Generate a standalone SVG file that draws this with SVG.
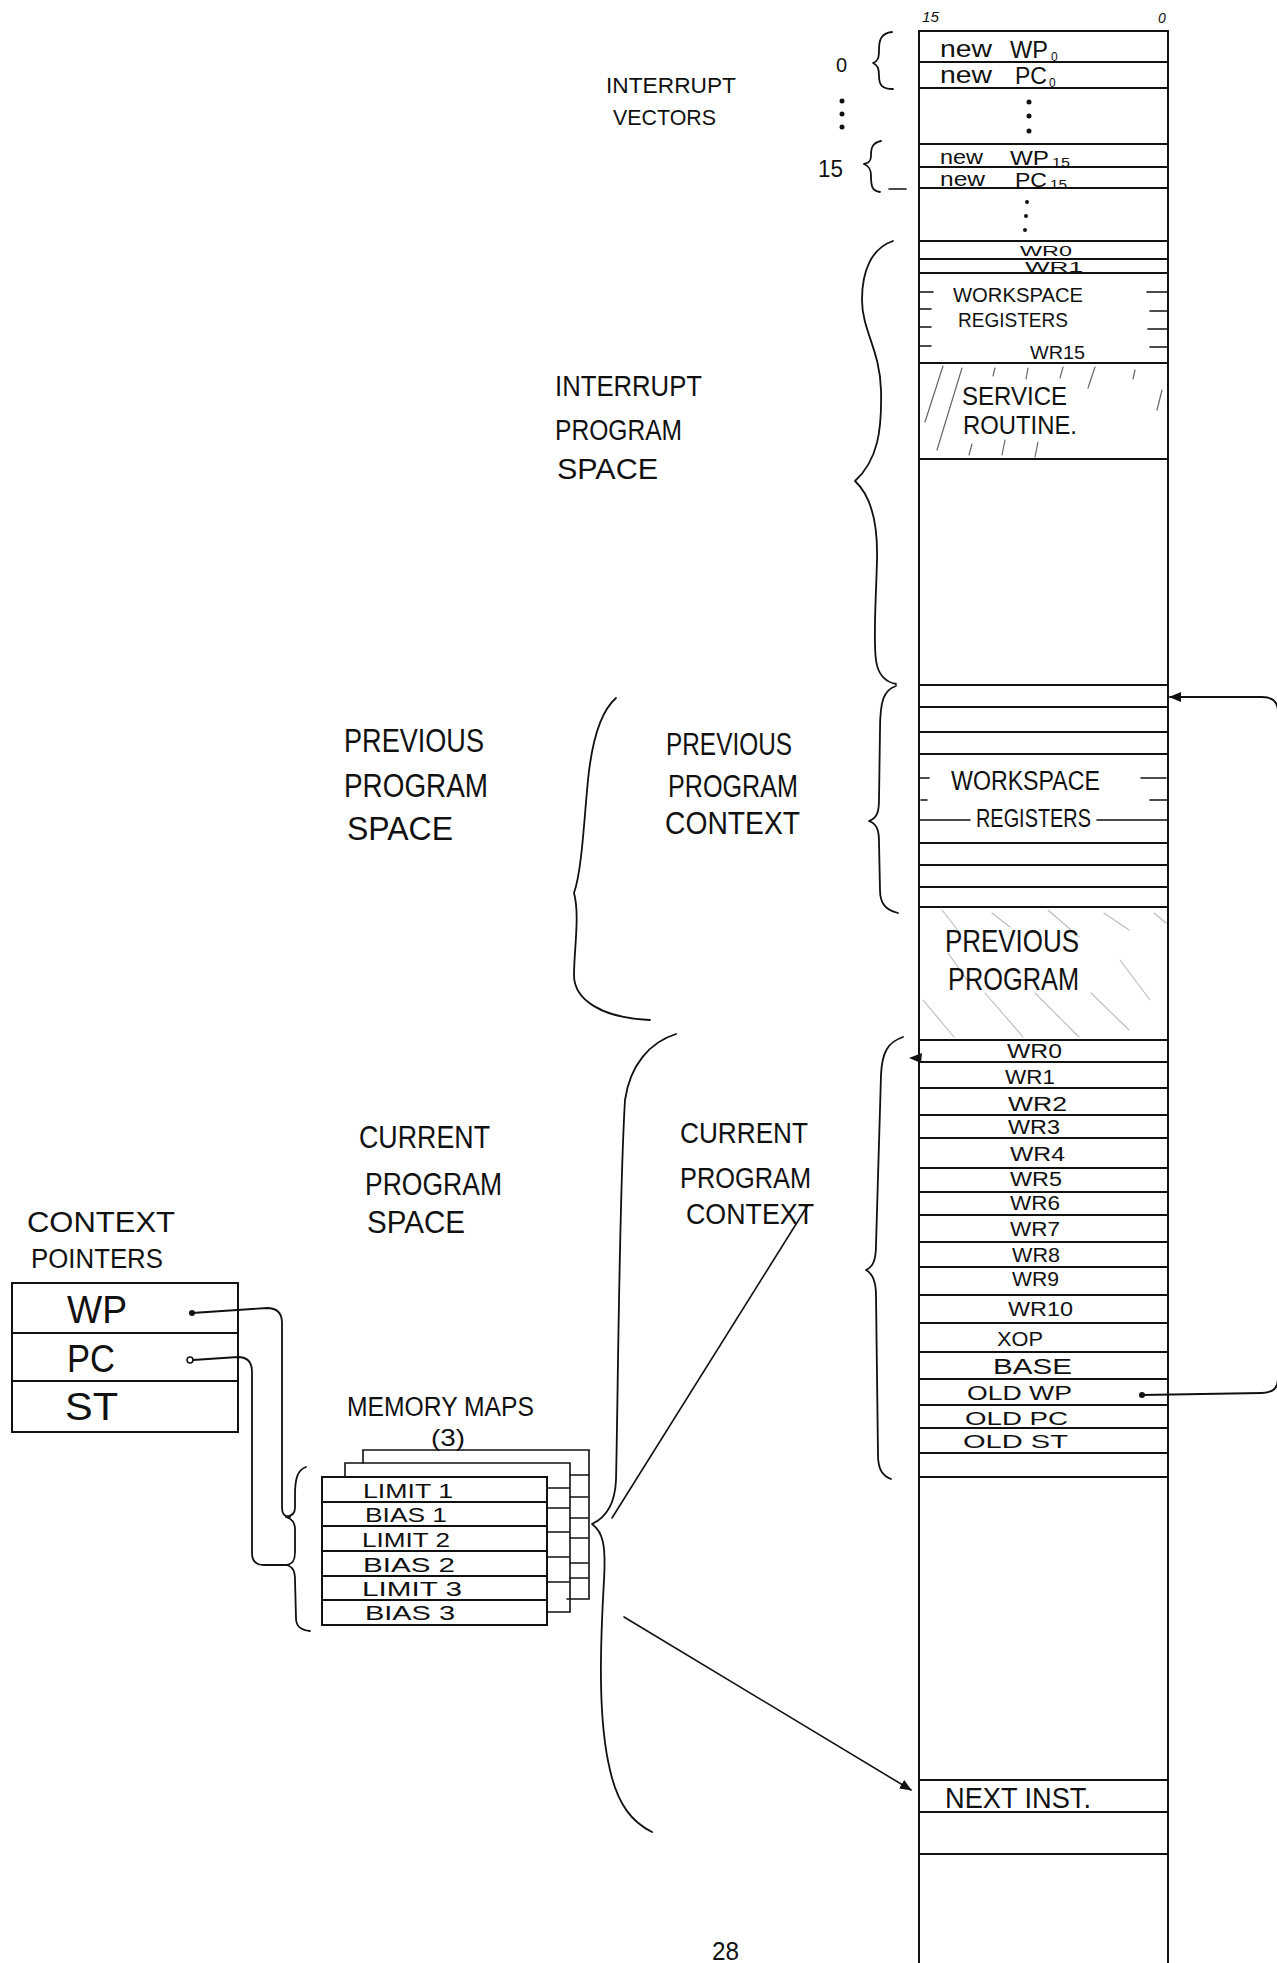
<svg xmlns="http://www.w3.org/2000/svg" width="1277" height="1963" viewBox="0 0 1277 1963">
<style>
.ln{stroke:#111;stroke-width:2;fill:none;stroke-linecap:round}
.th{stroke:#111;stroke-width:1.6;fill:none;stroke-linecap:round}
.hb{stroke:#111;stroke-width:1.8;fill:none;stroke-linecap:round;stroke-linejoin:round}
.ha{stroke:#666;stroke-width:1.2;fill:none;stroke-linecap:round}
.hl{stroke:#bbb;stroke-width:1.1;fill:none;stroke-linecap:round}
.dot{fill:#111}
text{font-family:"Liberation Sans",Arial,sans-serif;fill:#111}
.s14{font-size:14px;font-style:italic}
.s22{font-size:22px}
.s24{font-size:24px}
.s27{font-size:27px}
.s30{font-size:30px}
.s32{font-size:32px}
.s38{font-size:38px}
</style>
<defs>
<marker id="ah" viewBox="0 0 12 10" refX="11" refY="5" markerWidth="12" markerHeight="10" markerUnits="userSpaceOnUse" orient="auto">
<path d="M0,0 L12,5 L0,10 Z" fill="#111"/>
</marker>
</defs>
<rect width="1277" height="1963" fill="#fff"/>

<g id="memory-column">
<path class="ln" d="M919,31 V1963 M1168,31 V1963"/>
<path class="ln" d="M919,31 H1168 M919,62 H1168 M919,88 H1168 M919,144 H1168 M919,167 H1168 M919,188 H1168 M919,241 H1168 M919,259 H1168 M919,273 H1168 M919,363 H1168 M919,459 H1168"/>
<path class="th" d="M920,292 H933 M920,309 H931 M920,327 H931 M920,346 H931 M1147,292 H1168 M1150,311 H1168 M1148,329 H1168 M1150,347 H1168"/>
<path class="ln" d="M919,685 H1168 M919,707 H1168 M919,732 H1168 M919,754 H1168 M919,843 H1168 M919,865 H1168 M919,887 H1168 M919,907 H1168"/>
<path class="th" d="M920,778 H929 M921,800 H927 M1141,778 H1166 M1150,800 H1168 M920,820 H970 M1097,820 H1168"/>
<path class="ln" d="M919,1040 H1168 M919,1062 H1168 M919,1088 H1168 M919,1115 H1168 M919,1138 H1168 M919,1168 H1168 M919,1192 H1168 M919,1215 H1168 M919,1242 H1168 M919,1267 H1168 M919,1295 H1168 M919,1323 H1168 M919,1352 H1168 M919,1379 H1168 M919,1405 H1168 M919,1428 H1168 M919,1453 H1168 M919,1477 H1168"/>
<path class="ln" d="M919,1780 H1168 M919,1812 H1168 M919,1854 H1168"/>
<path class="ha" d="M943,366 L925,422 M962,368 L937,450 M995,368 L993,376 M1028,368 L1026,379 M1063,367 L1060,378 M1095,367 L1088,388 M1135,370 L1133,379 M1162,390 L1157,410 M972,444 L969,455 M1005,440 L1002,455 M1038,442 L1035,457"/>
<path class="hl" d="M923,1000 L954,1037 M942,910 L960,933 M992,913 L1010,927 M1048,910 L1079,937 M1104,913 L1129,930 M1154,913 L1166,923 M948,953 L967,980 M985,993 L1023,1037 M1035,993 L1079,1037 M1091,993 L1129,1030 M1120,960 L1150,1000"/>
<text class="s14" x="922" y="22" textLength="17" lengthAdjust="spacingAndGlyphs">15</text>
<text class="s14" x="1158" y="23">0</text>
<text class="s24" x="940" y="57" textLength="52" lengthAdjust="spacingAndGlyphs">new</text>
<text class="s24" x="1010" y="58" textLength="38" lengthAdjust="spacingAndGlyphs">WP</text>
<text x="1051" y="61" font-size="12">0</text>
<text class="s24" x="940" y="83" textLength="52" lengthAdjust="spacingAndGlyphs">new</text>
<text class="s24" x="1015" y="84" textLength="32" lengthAdjust="spacingAndGlyphs">PC</text>
<text x="1049" y="87" font-size="12">0</text>
<circle class="dot" cx="1029" cy="102" r="2.5"/>
<circle class="dot" cx="1029" cy="116" r="2.5"/>
<circle class="dot" cx="1029" cy="131" r="2.5"/>
<text x="940" y="164" font-size="21" textLength="43" lengthAdjust="spacingAndGlyphs">new</text>
<text x="1010" y="165" font-size="21" textLength="39" lengthAdjust="spacingAndGlyphs">WP</text>
<text x="1052" y="167" font-size="12" textLength="18" lengthAdjust="spacingAndGlyphs">15</text>
<text x="940" y="186" font-size="21" textLength="45" lengthAdjust="spacingAndGlyphs">new</text>
<text x="1015" y="187" font-size="21" textLength="32" lengthAdjust="spacingAndGlyphs">PC</text>
<text x="1050" y="189" font-size="12" textLength="17" lengthAdjust="spacingAndGlyphs">15</text>
<circle class="dot" cx="1027" cy="202" r="2"/>
<circle class="dot" cx="1026" cy="216" r="2"/>
<circle class="dot" cx="1025" cy="230" r="2"/>
<text x="1020" y="256" font-size="15" textLength="52" lengthAdjust="spacingAndGlyphs">WR0</text>
<text x="1025" y="272" font-size="14" textLength="58" lengthAdjust="spacingAndGlyphs">WR1</text>
<text x="953" y="302" font-size="20" textLength="130" lengthAdjust="spacingAndGlyphs">WORKSPACE</text>
<text x="958" y="327" font-size="21" textLength="110" lengthAdjust="spacingAndGlyphs">REGISTERS</text>
<text x="1030" y="359" font-size="19" textLength="55" lengthAdjust="spacingAndGlyphs">WR15</text>
<text x="962" y="405" font-size="25" textLength="105" lengthAdjust="spacingAndGlyphs">SERVICE</text>
<text x="963" y="434" font-size="25" textLength="114" lengthAdjust="spacingAndGlyphs">ROUTINE.</text>
<text class="s27" x="951" y="790" textLength="149" lengthAdjust="spacingAndGlyphs">WORKSPACE</text>
<text x="976" y="827" font-size="25" textLength="115" lengthAdjust="spacingAndGlyphs">REGISTERS</text>
<text class="s32" x="945" y="952" textLength="134" lengthAdjust="spacingAndGlyphs">PREVIOUS</text>
<text class="s32" x="948" y="990" textLength="131" lengthAdjust="spacingAndGlyphs">PROGRAM</text>
<text x="1007" y="1058" font-size="20" textLength="55" lengthAdjust="spacingAndGlyphs">WR0</text>
<text x="1005" y="1084" font-size="20" textLength="50" lengthAdjust="spacingAndGlyphs">WR1</text>
<text x="1008" y="1111" font-size="20" textLength="59" lengthAdjust="spacingAndGlyphs">WR2</text>
<text x="1008" y="1134" font-size="20" textLength="52" lengthAdjust="spacingAndGlyphs">WR3</text>
<text x="1010" y="1161" font-size="20" textLength="55" lengthAdjust="spacingAndGlyphs">WR4</text>
<text x="1010" y="1186" font-size="20" textLength="52" lengthAdjust="spacingAndGlyphs">WR5</text>
<text x="1010" y="1210" font-size="20" textLength="50" lengthAdjust="spacingAndGlyphs">WR6</text>
<text x="1010" y="1236" font-size="20" textLength="50" lengthAdjust="spacingAndGlyphs">WR7</text>
<text x="1012" y="1262" font-size="20" textLength="48" lengthAdjust="spacingAndGlyphs">WR8</text>
<text x="1012" y="1286" font-size="20" textLength="47" lengthAdjust="spacingAndGlyphs">WR9</text>
<text x="1008" y="1316" font-size="20" textLength="65" lengthAdjust="spacingAndGlyphs">WR10</text>
<text x="997" y="1346" font-size="20" textLength="46" lengthAdjust="spacingAndGlyphs">XOP</text>
<text x="993" y="1374" font-size="22" textLength="79" lengthAdjust="spacingAndGlyphs">BASE</text>
<text x="967" y="1400" font-size="20" textLength="105" lengthAdjust="spacingAndGlyphs">OLD WP</text>
<text x="965" y="1425" font-size="19" textLength="103" lengthAdjust="spacingAndGlyphs">OLD PC</text>
<text x="963" y="1448" font-size="19" textLength="105" lengthAdjust="spacingAndGlyphs">OLD ST</text>
<text class="s30" x="945" y="1808" textLength="146" lengthAdjust="spacingAndGlyphs">NEXT INST.</text>
</g>

<g id="vector-labels">
<text class="s22" x="606" y="93" textLength="130" lengthAdjust="spacingAndGlyphs">INTERRUPT</text>
<text class="s22" x="613" y="125" textLength="103" lengthAdjust="spacingAndGlyphs">VECTORS</text>
<text x="836" y="72" font-size="20">0</text>
<circle class="dot" cx="842" cy="101" r="2.5"/>
<circle class="dot" cx="842" cy="114" r="2.5"/>
<circle class="dot" cx="842" cy="127" r="2.5"/>
<text class="s24" x="818" y="177" textLength="25" lengthAdjust="spacingAndGlyphs">15</text>
<path class="hb" d="M892,32 C881,33 879,40 879,50 C879,58 878,61 873,63 C878,65 879,69 879,76 C879,85 882,89 893,89"/>
<path class="hb" d="M881,141 C871,143 871,150 871,156 C871,161 869,163 864,164 C869,166 871,169 871,176 C871,186 872,191 880,192"/>
<path class="th" d="M889,189 H906"/>
</g>

<g id="interrupt-program-space">
<text class="s30" x="555" y="396" textLength="147" lengthAdjust="spacingAndGlyphs">INTERRUPT</text>
<text class="s30" x="555" y="440" textLength="127" lengthAdjust="spacingAndGlyphs">PROGRAM</text>
<text class="s30" x="557" y="479" textLength="101" lengthAdjust="spacingAndGlyphs">SPACE</text>
<path class="hb" d="M893,241 C872,248 862,270 862,300 C862,330 880,350 881,390 C882,430 878,460 855,481 C870,495 878,520 877,560 C876,600 873,640 876,660 C878,676 886,682 896,684"/>
</g>

<g id="previous-program-space">
<text x="344" y="752" font-size="34" textLength="140" lengthAdjust="spacingAndGlyphs">PREVIOUS</text>
<text x="344" y="797" font-size="34" textLength="144" lengthAdjust="spacingAndGlyphs">PROGRAM</text>
<text x="347" y="840" font-size="34" textLength="106" lengthAdjust="spacingAndGlyphs">SPACE</text>
<path class="hb" d="M616,698 C600,712 592,740 588,780 C584,820 582,870 574,893 C580,915 574,950 574,975 C574,1000 602,1018 650,1020"/>
</g>

<g id="previous-program-context">
<text class="s32" x="666" y="755" textLength="126" lengthAdjust="spacingAndGlyphs">PREVIOUS</text>
<text class="s32" x="668" y="797" textLength="130" lengthAdjust="spacingAndGlyphs">PROGRAM</text>
<text class="s32" x="665" y="834" textLength="135" lengthAdjust="spacingAndGlyphs">CONTEXT</text>
<path class="hb" d="M896,686 C884,690 880,700 880,730 L879,800 C879,812 877,818 869,821 C877,824 879,830 879,842 L880,890 C880,904 886,910 898,913"/>
</g>

<g id="current-program-space">
<text class="s32" x="359" y="1148" textLength="131" lengthAdjust="spacingAndGlyphs">CURRENT</text>
<text class="s32" x="365" y="1195" textLength="137" lengthAdjust="spacingAndGlyphs">PROGRAM</text>
<text class="s32" x="367" y="1233" textLength="98" lengthAdjust="spacingAndGlyphs">SPACE</text>
<path class="hb" d="M676,1034 C650,1042 630,1065 625,1100 C619,1200 618,1400 616,1480 C615,1505 605,1518 592,1524 C603,1532 606,1545 604,1580 C600,1650 598,1720 610,1770 C618,1805 632,1822 652,1832"/>
</g>

<g id="current-program-context">
<text class="s30" x="680" y="1143" textLength="128" lengthAdjust="spacingAndGlyphs">CURRENT</text>
<text class="s30" x="680" y="1188" textLength="131" lengthAdjust="spacingAndGlyphs">PROGRAM</text>
<text class="s30" x="686" y="1224" textLength="128" lengthAdjust="spacingAndGlyphs">CONTEXT</text>
<path class="hb" d="M903,1037 C888,1042 882,1052 881,1075 L876,1245 C876,1260 873,1267 866,1270 C873,1274 876,1282 876,1295 L878,1455 C878,1470 883,1476 891,1479"/>
</g>

<g id="context-pointers">
<text x="27" y="1232" font-size="30" textLength="148" lengthAdjust="spacingAndGlyphs">CONTEXT</text>
<text x="31" y="1268" font-size="27" textLength="132" lengthAdjust="spacingAndGlyphs">POINTERS</text>
<rect class="ln" x="12" y="1283" width="226" height="149"/>
<path class="ln" d="M12,1333 H238 M12,1381 H238"/>
<text class="s38" x="67" y="1323" textLength="60" lengthAdjust="spacingAndGlyphs">WP</text>
<text class="s38" x="67" y="1372" textLength="48" lengthAdjust="spacingAndGlyphs">PC</text>
<text class="s38" x="65" y="1420" textLength="53" lengthAdjust="spacingAndGlyphs">ST</text>
</g>

<g id="memory-maps">
<text x="347" y="1416" font-size="27" textLength="187" lengthAdjust="spacingAndGlyphs">MEMORY MAPS</text>
<text x="431" y="1446" font-size="24" textLength="34" lengthAdjust="spacingAndGlyphs">(3)</text>
<path class="th" d="M363,1463 V1450 H589 V1599 H567"/>
<path class="th" d="M345,1477 V1463 H570 V1612 H548"/>
<path class="th" d="M570,1475 H589 M570,1497 H588 M570,1518 H588 M570,1538 H588 M570,1563 H588 M570,1578 H588"/>
<path class="th" d="M547,1488 H569 M547,1508 H569 M547,1532 H569 M547,1557 H569 M547,1582 H569"/>
<rect class="ln" x="322" y="1477" width="225" height="148" fill="#fff"/>
<path class="ln" d="M322,1502 H547 M322,1526 H547 M322,1551 H547 M322,1576 H547 M322,1600 H547"/>
<text x="363" y="1498" font-size="21" textLength="90" lengthAdjust="spacingAndGlyphs">LIMIT 1</text>
<text x="365" y="1522" font-size="21" textLength="82" lengthAdjust="spacingAndGlyphs">BIAS 1</text>
<text x="362" y="1547" font-size="21" textLength="88" lengthAdjust="spacingAndGlyphs">LIMIT 2</text>
<text x="363" y="1572" font-size="21" textLength="92" lengthAdjust="spacingAndGlyphs">BIAS 2</text>
<text x="362" y="1596" font-size="21" textLength="100" lengthAdjust="spacingAndGlyphs">LIMIT 3</text>
<text x="365" y="1620" font-size="21" textLength="90" lengthAdjust="spacingAndGlyphs">BIAS 3</text>
<path class="hb" d="M306,1467 C297,1470 295,1480 295,1495 L295,1508 C295,1513 292,1516 286,1517 C292,1519 295,1522 295,1530 L295,1552 C295,1560 293,1564 287,1565 C293,1567 295,1571 295,1580 L296,1618 C296,1626 300,1630 310,1631"/>
</g>

<g id="connectors">
<circle cx="192" cy="1313" r="3" fill="#111"/>
<path class="hb" d="M192,1313 L267,1308 Q282,1308 282,1323 L282,1508 Q282,1517 290,1517"/>
<circle cx="190" cy="1360" r="3" fill="none" stroke="#111" stroke-width="1.5"/>
<path class="hb" d="M193,1360 L238,1357 Q252,1357 252,1372 L252,1553 Q252,1565 264,1565 L288,1565"/>
<path class="th" d="M612,1518 L808,1205"/>
<path class="th" d="M624,1617 L911,1790" marker-end="url(#ah)"/>
<circle cx="1142" cy="1395" r="3" fill="#111"/>
<path class="hb" d="M1142,1395 L1262,1393 Q1278,1393 1278,1378 L1278,712 Q1278,697 1262,697 L1170,697" marker-end="url(#ah)"/>
<path d="M909,1058 L922,1053 L921,1063 Z" fill="#111"/>
</g>

<text x="712" y="1960" font-size="26" textLength="27" lengthAdjust="spacingAndGlyphs">28</text>
</svg>
